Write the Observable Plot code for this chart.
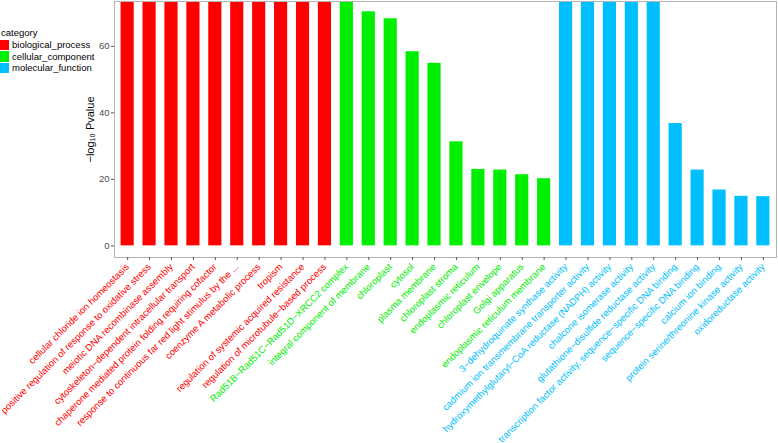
<!DOCTYPE html>
<html>
<head>
<meta charset="utf-8">
<script src="https://cdn.jsdelivr.net/npm/d3@7"></script>
<script src="https://cdn.jsdelivr.net/npm/@observablehq/plot@0.6"></script>
<style>
  html, body { margin: 0; padding: 0; background: #fff; }
  #wrap { position: relative; width: 778px; height: 443px; font-family: "Liberation Sans", Arial, Helvetica, sans-serif; }
  #legend { position: absolute; left: 0; top: 27px; font-size: 9.5px; color: #000; }
  #legend .title { margin-left: 1px; height: 12px; line-height: 12px; }
  #legend .row { display: flex; align-items: center; height: 11.5px; }
  #legend .sw { width: 9px; height: 10.5px; margin-right: 3px; }
</style>
</head>
<body>
<div id="wrap"><div id="legend"></div></div>
<script>
const terms = [
  "cellular chloride ion homeostasis",
  "positive regulation of response to oxidative stress",
  "meiotic DNA recombinase assembly",
  "cytoskeleton\u2212dependent intracellular transport",
  "chaperone mediated protein folding requiring cofactor",
  "response to continuous far red light stimulus by the ...",
  "coenzyme A metabolic process",
  "tropism",
  "regulation of systemic acquired resistance",
  "regulation of microtubule\u2212based process",
  "Rad51B\u2212Rad51C\u2212Rad51D\u2212XRCC2 complex",
  "integral component of membrane",
  "chloroplast",
  "cytosol",
  "plasma membrane",
  "chloroplast stroma",
  "endoplasmic reticulum",
  "chloroplast envelope",
  "Golgi apparatus",
  "endoplasmic reticulum membrane",
  "3\u2212dehydroquinate synthase activity",
  "cadmium ion transmembrane transporter activity",
  "hydroxymethylglutaryl\u2212CoA reductase (NADPH) activity",
  "chalcone isomerase activity",
  "glutathione\u2212disulfide reductase activity",
  "transcription factor activity, sequence\u2212specific DNA binding",
  "sequence\u2212specific DNA binding",
  "calcium ion binding",
  "protein serine/threonine kinase activity",
  "oxidoreductase activity"
];
const categories = [
  "biological_process","biological_process","biological_process","biological_process","biological_process",
  "biological_process","biological_process","biological_process","biological_process","biological_process",
  "cellular_component","cellular_component","cellular_component","cellular_component","cellular_component",
  "cellular_component","cellular_component","cellular_component","cellular_component","cellular_component",
  "molecular_function","molecular_function","molecular_function","molecular_function","molecular_function",
  "molecular_function","molecular_function","molecular_function","molecular_function","molecular_function"
];
// bars reaching the top of the panel are cut off in the reference; their values are estimated above the visible range
const values = [
  80, 80, 80, 80, 80, 80, 80, 80, 80, 80,
  80, 70.4, 68.3, 58.4, 54.9, 31.3, 23.0, 22.8, 21.4, 20.2,
  80, 80, 80, 80, 80, 36.8, 22.8, 16.8, 14.9, 14.8
];
const categoryNames = ["biological_process", "cellular_component", "molecular_function"];
const categoryColors = ["#FF0000", "#00EE00", "#00BFFF"];
const yTicks = [0, 20, 40, 60];
const yLabel = "\u2212log\u2081\u2080 Pvalue";
const legendTitle = "category";

const rows = terms.map((t, i) => ({term: t, category: categories[i], value: values[i]}));
const font = '"Liberation Sans", Arial, Helvetica, sans-serif';

const chart = Plot.plot({
  width: 778,
  height: 443,
  marginLeft: 114,
  marginRight: 2,
  marginTop: 1,
  marginBottom: 186,
  style: {fontFamily: font, background: "#fff", overflow: "visible"},
  x: {domain: terms, paddingInner: 0.4, paddingOuter: 0.3, round: false, axis: null},
  y: {domain: [-3.5, 73.5], axis: null},
  color: {type: "ordinal", domain: categoryNames, range: categoryColors},
  marks: [
    Plot.barY(rows, {x: "term", y1: 0, y2: "value", fill: "category", clip: true}),
    Plot.frame({stroke: "#b3b3b3", strokeWidth: 1}),
    Plot.axisY({ticks: yTicks, tickSize: 3, tickPadding: 2, label: null, stroke: "#555", fill: "#4d4d4d", fontSize: 9.5}),
    Plot.axisX({tickSize: 3, tickFormat: () => "", label: null, stroke: "#555"}),
    Plot.text(rows, {x: "term", frameAnchor: "bottom", text: "term", rotate: -45, textAnchor: "end", fill: "category", dx: 2, dy: 10, fontSize: 9.5}),
    Plot.text([yLabel], {frameAnchor: "left", textAnchor: "middle", rotate: -90, dx: -24, fontSize: 11, fill: "#000"})
  ]
});
document.getElementById("wrap").prepend(chart);

const legend = document.getElementById("legend");
const title = document.createElement("div");
title.className = "title";
title.textContent = legendTitle;
legend.appendChild(title);
categoryNames.forEach((name, i) => {
  const row = document.createElement("div");
  row.className = "row";
  const sw = document.createElement("div");
  sw.className = "sw";
  sw.style.background = categoryColors[i];
  const label = document.createElement("span");
  label.textContent = name;
  row.appendChild(sw);
  row.appendChild(label);
  legend.appendChild(row);
});
</script>
</body>
</html>
